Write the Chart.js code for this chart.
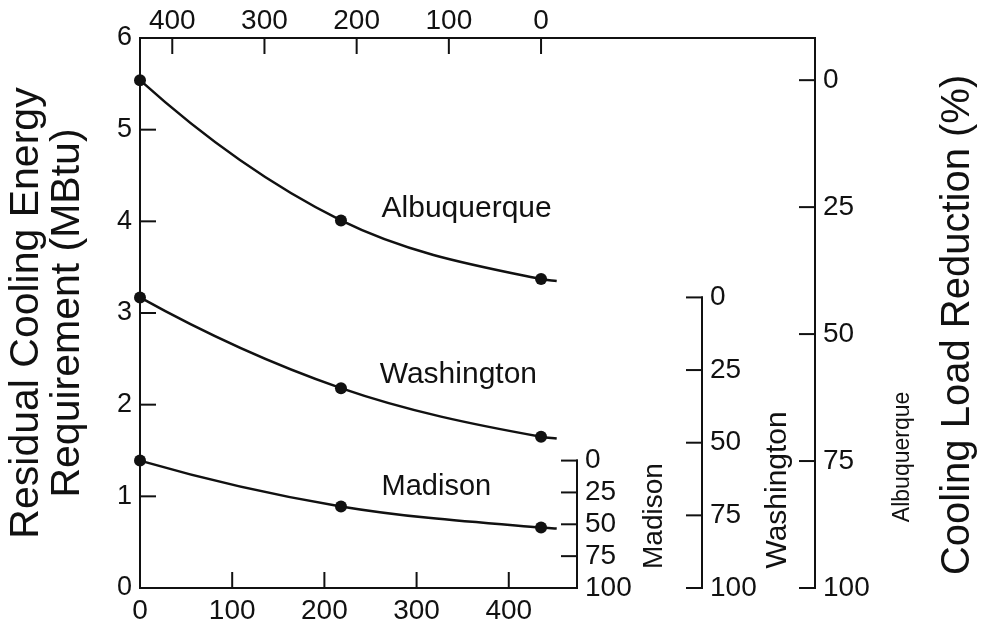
<!DOCTYPE html>
<html>
<head>
<meta charset="utf-8">
<script src="https://cdn.jsdelivr.net/npm/chart.js@4.4.1/dist/chart.umd.min.js"></script>
<style>
  html, body { margin: 0; padding: 0; background: #fff; }
  #wrap { width: 984px; height: 629px; }
</style>
</head>
<body>
<div id="wrap"><canvas id="chart"></canvas></div>
<script>
// three runs per city, last entry is where the drawn curve stops
const xValues     = [0, 218, 435, 452];
const albuquerque = [5.54, 4.01, 3.37, 3.35];
const washington  = [3.17, 2.18, 1.65, 1.63];
const madison     = [1.39, 0.89, 0.66, 0.65];
const pointSizes  = [6, 6, 6, 0];

const bottomTicks = [0, 100, 200, 300, 400];
const topTicks    = [400, 300, 200, 100, 0];
const pctTicks    = [0, 25, 50, 75, 100];
const yMax = 6;
const xMax = 474;
const topZero = xValues[2];   // top scale reads 0 at the last run

const ink = '#111';
const FONT = "'Liberation Sans', Arial, Helvetica, sans-serif";
const TICK = 15;

Chart.defaults.font.family = FONT;
Chart.defaults.color = ink;

function series(vals) {
  return {
    data: xValues.map((x, i) => ({ x: x, y: vals[i] })),
    showLine: true,
    borderColor: ink,
    borderWidth: 2.5,
    backgroundColor: ink,
    pointBackgroundColor: ink,
    pointBorderWidth: 0,
    pointRadius: pointSizes,
    cubicInterpolationMode: 'monotone',
    clip: false
  };
}

// percent reduction relative to the un-treated case (first run)
function pctAxis(base, weight, width) {
  return {
    type: 'linear',
    axis: 'y',
    position: 'right',
    weight: weight,
    min: 100 * (1 - yMax / base),
    max: 100,
    reverse: true,
    grid: { display: false, drawTicks: false },
    border: { display: false },
    ticks: { autoSkip: false, padding: 8, font: { size: 28, lineHeight: 1 } },
    afterBuildTicks: s => { s.ticks = pctTicks.map(v => ({ value: v })); },
    afterFit: s => { s.width = width; }
  };
}

const curveLabels = [
  { text: 'Albuquerque', x: 262, y: 4.05, size: 30 },
  { text: 'Washington', x: 260, y: 2.24, size: 30 },
  { text: 'Madison', x: 262, y: 1.01, size: 29 }
];

const sideTitles = [
  { text: 'Madison', scale: 'mad', dx: 85, y: 0.785, size: 28 },
  { text: 'Washington', scale: 'was', dx: 84, y: 1.07, size: 30 },
  { text: 'Albuquerque', scale: 'alb', dx: 94, y: 1.43, size: 23 },
  { text: 'Cooling Load Reduction (%)', scale: 'alb', dx: 154, y: 2.87, size: 40 }
];

// start tangent of each curve: take it from the parabola through the first three
// runs instead of the first chord, so the curves bow like the drawn ones
const bowStart = {
  id: 'bowStart',
  beforeDatasetsDraw(chart) {
    chart.getSortedVisibleDatasetMetas().forEach(meta => {
      const p = meta.data;
      if (!meta.dataset || p.length < 3) return;
      meta.dataset.updateControlPoints(chart.chartArea, 'x');
      const s01 = (p[1].y - p[0].y) / (p[1].x - p[0].x);
      const s12 = (p[2].y - p[1].y) / (p[2].x - p[1].x);
      const m0 = s01 + (s12 - s01) / (p[2].x - p[0].x) * (p[0].x - p[1].x);
      const h = (p[1].x - p[0].x) / 3;
      p[0].cp2x = p[0].x + h;
      p[0].cp2y = p[0].y + m0 * h;
    });
  }
};

const frame = {
  id: 'frame',
  afterDatasetsDraw(chart) {
    const { ctx, chartArea: a, scales: s } = chart;
    ctx.save();
    ctx.strokeStyle = ink;
    ctx.lineWidth = 2;
    ctx.lineCap = 'square';
    const line = (x1, y1, x2, y2) => {
      ctx.beginPath(); ctx.moveTo(x1, y1); ctx.lineTo(x2, y2); ctx.stroke();
    };

    line(a.left, a.top, s.alb.left, a.top);
    line(a.left, a.top, a.left, a.bottom);
    line(a.left, a.bottom, a.right, a.bottom);

    s.y.ticks.forEach(t => {
      const y = s.y.getPixelForValue(t.value);
      line(a.left, y, a.left + TICK, y);
    });
    s.x.ticks.forEach(t => {
      const x = s.x.getPixelForValue(t.value);
      line(x, a.bottom, x, a.bottom - TICK);
    });
    s.xTop.ticks.forEach(t => {
      const x = s.xTop.getPixelForValue(t.value);
      line(x, a.top, x, a.top + TICK);
    });

    ['mad', 'was', 'alb'].forEach(id => {
      const sc = s[id];
      const x = sc.left;
      const y0 = id === 'alb' ? a.top : sc.getPixelForValue(0);
      line(x, y0, x, sc.getPixelForValue(100));
      sc.ticks.forEach(t => {
        const y = sc.getPixelForValue(t.value);
        line(x - TICK, y, x, y);
      });
    });

    ctx.fillStyle = ink;
    ctx.textBaseline = 'alphabetic';
    ctx.textAlign = 'left';
    curveLabels.forEach(l => {
      ctx.font = l.size + 'px ' + FONT;
      ctx.fillText(l.text, s.x.getPixelForValue(l.x), s.y.getPixelForValue(l.y));
    });

    ctx.textAlign = 'center';
    sideTitles.forEach(l => {
      ctx.save();
      ctx.translate(s[l.scale].left + l.dx, s.y.getPixelForValue(l.y));
      ctx.rotate(-Math.PI / 2);
      ctx.font = l.size + 'px ' + FONT;
      ctx.fillText(l.text, 0, 0);
      ctx.restore();
    });
    ctx.restore();
  }
};

new Chart(document.getElementById('chart'), {
  type: 'scatter',
  data: {
    datasets: [series(albuquerque), series(washington), series(madison)]
  },
  options: {
    responsive: true,
    maintainAspectRatio: false,
    animation: false,
    events: [],
    layout: { padding: 0 },
    plugins: { legend: { display: false }, tooltip: { enabled: false } },
    scales: {
      x: {
        type: 'linear', position: 'bottom', min: 0, max: xMax,
        grid: { display: false, drawTicks: false },
        border: { display: false },
        ticks: { autoSkip: false, maxRotation: 0, minRotation: 0, padding: 9, font: { size: 28, lineHeight: 1 } },
        afterBuildTicks: s => { s.ticks = bottomTicks.map(v => ({ value: v })); },
        afterFit: s => { s.height = 41; }
      },
      xTop: {
        type: 'linear', axis: 'x', position: 'top',
        min: topZero - xMax, max: topZero, reverse: true,
        grid: { display: false, drawTicks: false },
        border: { display: false },
        ticks: { autoSkip: false, maxRotation: 0, minRotation: 0, padding: 3, font: { size: 28, lineHeight: 1 } },
        afterBuildTicks: s => { s.ticks = topTicks.map(v => ({ value: v })); },
        afterFit: s => { s.height = 38; }
      },
      y: {
        type: 'linear', position: 'left', min: 0, max: yMax,
        grid: { display: false, drawTicks: false },
        border: { display: false },
        ticks: { stepSize: 1, padding: 8, font: { size: 27, lineHeight: 1 } },
        title: {
          display: true,
          text: ['Residual Cooling Energy', 'Requirement (MBtu)'],
          font: { size: 41, lineHeight: 1 },
          padding: { top: 6, bottom: 0 }
        },
        afterFit: s => { s.width = 140; }
      },
      mad: pctAxis(madison[0], 1, 125),
      was: pctAxis(washington[0], 2, 113),
      alb: pctAxis(albuquerque[0], 3, 169)
    }
  },
  plugins: [bowStart, frame]
});
</script>
</body>
</html>
